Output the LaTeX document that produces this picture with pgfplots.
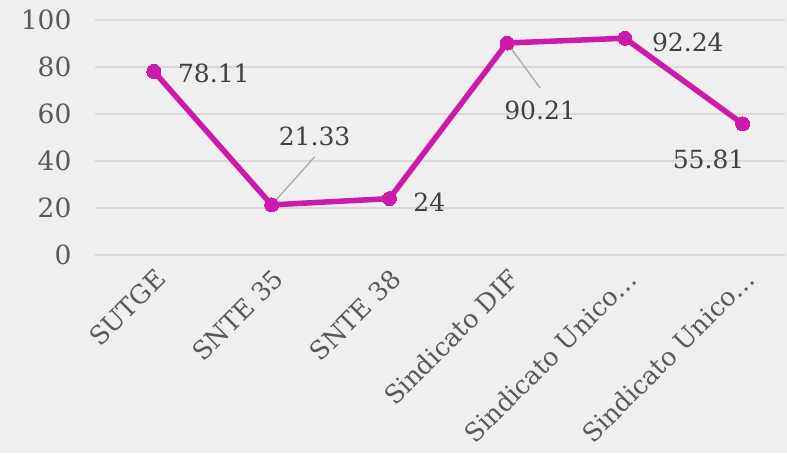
\documentclass[border=0pt]{standalone}
\usepackage{pgfplots}
\pgfplotsset{compat=1.18}
\usepackage{fontspec}
\setmainfont{DejaVu Serif}
\definecolor{bgc}{HTML}{EFEFEF}
\definecolor{gridc}{HTML}{D9D9D9}
\definecolor{tickc}{HTML}{595959}
\definecolor{lblc}{HTML}{404040}
\definecolor{linec}{HTML}{CC1AAB}
\definecolor{leadc}{HTML}{A6A6A6}
\begin{document}
\begin{tikzpicture}[x=1pt,y=1pt]
\path[use as bounding box, fill=bgc] (0,0) rectangle (787,453);
\begin{axis}[
  at={(95pt,198pt)}, anchor=south west,
  scale only axis, width=690pt, height=235pt,
  xmin=-0.5, xmax=5.36, ymin=0, ymax=100,
  ytick={0,20,...,100},
  xtick={0,1,2,3,4,5},
  xticklabels={SUTGE,SNTE 35,SNTE 38,Sindicato DIF,Sindicato Unico…,Sindicato Unico…},
  axis line style={draw=none},
  tick style={draw=none},
  xmajorgrids=false, ymajorgrids=true,
  major grid style={draw=gridc, line width=1.2pt},
  /pgf/number format/assume math mode=true,
  yticklabel style={font=\fontsize{26.5}{30}\selectfont, text=tickc, xshift=-20pt},
  xticklabel style={font=\fontsize{25.5}{30}\selectfont, text=tickc, xshift=0pt, yshift=-12pt, rotate=45, anchor=north east, inner sep=0pt},
  clip=false,
]
\addplot[linec, line width=5.5pt, mark=*, mark size=7pt, mark options={fill=linec, draw=linec, line width=0pt}]
  coordinates {(0,78.11) (1,21.33) (2,24) (3,90.21) (4,92.24) (5,55.81)};
\begin{scope}[every node/.style={font=\fontsize{25}{28}\selectfont, text=lblc, inner sep=0pt, anchor=center}]
\draw[leadc, line width=1.2pt] (axis cs:1,21.33) -- ++(43pt,48pt);
\draw[leadc, line width=1.2pt] (axis cs:3,90.21) -- ++(33pt,-45pt);
\node[xshift=60pt, yshift=-2pt] at (axis cs:0,78.11) {78.11};
\node[xshift=43pt, yshift=68pt] at (axis cs:1,21.33) {21.33};
\node[xshift=40pt, yshift=-4pt] at (axis cs:2,24) {24};
\node[xshift=33pt, yshift=-67pt] at (axis cs:3,90.21) {90.21};
\node[xshift=63pt, yshift=-4pt] at (axis cs:4,92.24) {92.24};
\node[xshift=-34pt, yshift=-36pt] at (axis cs:5,55.81) {55.81};
\end{scope}
\end{axis}
\end{tikzpicture}
\end{document}
